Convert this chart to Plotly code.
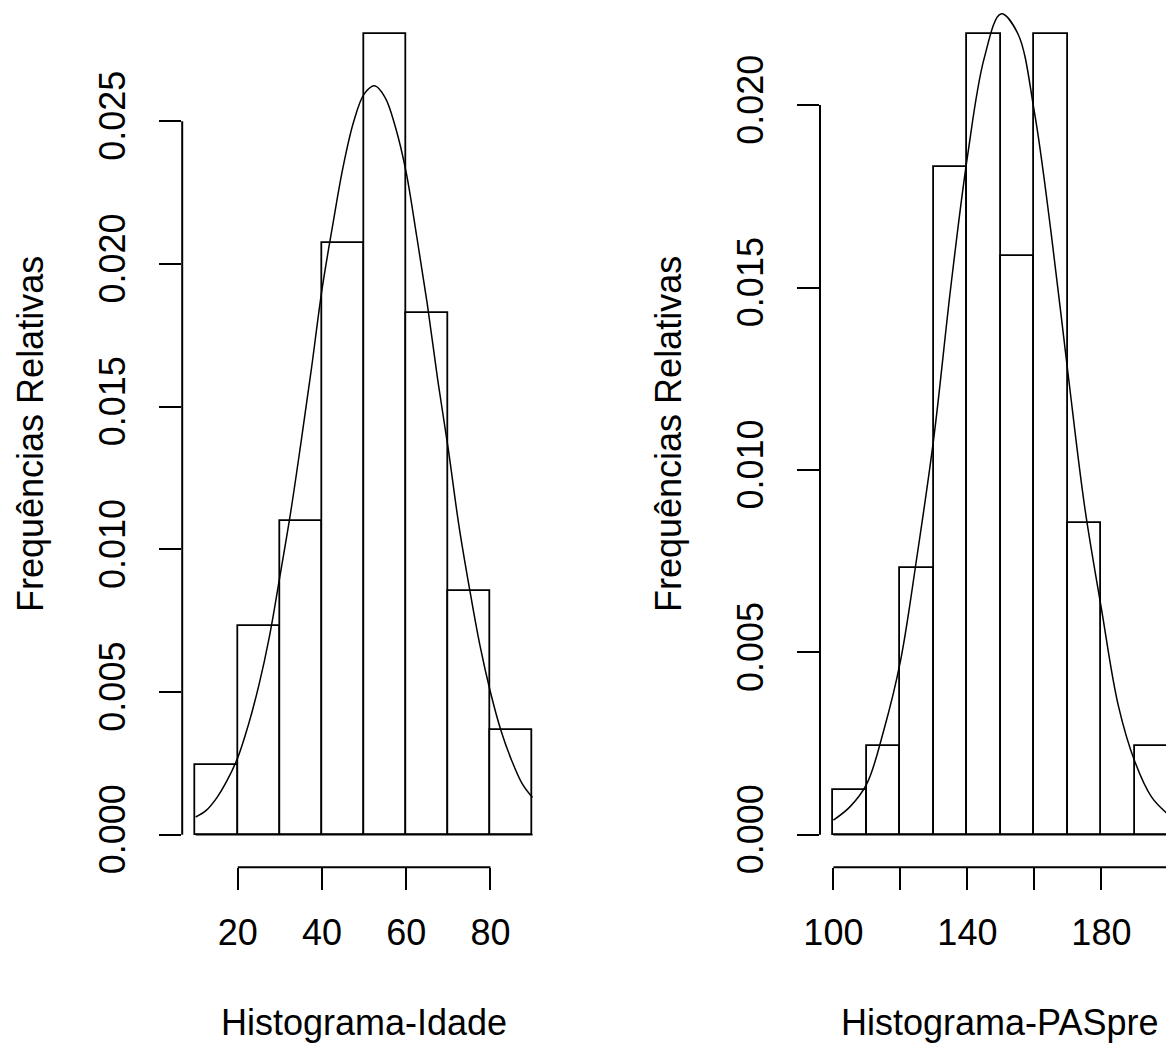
import plotly.graph_objects as go

# ---------------- data ----------------
idade_breaks = [10, 20, 30, 40, 50, 60, 70, 80, 90]
idade_counts = [2, 6, 9, 17, 23, 15, 7, 3]

pas_breaks = [100, 110, 120, 130, 140, 150, 160, 170, 180, 190, 200]
pas_counts = [1, 2, 6, 15, 18, 13, 18, 7, 0, 2]

# fitted normal curve
idade_curve_x = [10, 12.5, 15, 17.5, 20, 22.5, 25, 27.5, 30, 32.5, 35, 37.5, 40, 42.5, 45, 47.5,
                 50, 52.5, 55, 57.5, 60, 62.5, 65, 67.5, 70, 72.5, 75, 77.5, 80, 82.5, 85, 87.5, 90]
idade_curve_y = [0.00062, 0.00085, 0.00129, 0.00191, 0.00270, 0.00384, 0.00523, 0.00693, 0.00905,
                 0.01124, 0.01373, 0.01634, 0.01910, 0.02132, 0.02339, 0.02497, 0.02595, 0.02624,
                 0.02583, 0.02476, 0.02320, 0.02096, 0.01860, 0.01592, 0.01350, 0.01085, 0.00865,
                 0.00664, 0.00500, 0.00365, 0.00262, 0.00180, 0.00130]

pas_curve_x = [100, 105, 110, 115, 120, 125, 130, 135, 140, 145, 150, 155, 160, 165, 170, 175,
               180, 185, 190, 195, 200]
pas_curve_y = [0.00040, 0.00077, 0.00140, 0.00285, 0.00475, 0.00766, 0.01090, 0.01498, 0.01858,
               0.02128, 0.02250, 0.02197, 0.01981, 0.01649, 0.01267, 0.00899, 0.00620, 0.00356,
               0.00200, 0.00103, 0.00055]

idade_xticks = [20, 40, 60, 80]
idade_yticks = [0.0, 0.005, 0.010, 0.015, 0.020, 0.025]
idade_yticktext = ["0.000", "0.005", "0.010", "0.015", "0.020", "0.025"]

pas_xticks = [100, 120, 140, 160, 180, 200]
pas_xticktext = ["100", "", "140", "", "180", ""]
pas_yticks = [0.0, 0.005, 0.010, 0.015, 0.020]
pas_yticktext = ["0.000", "0.005", "0.010", "0.015", "0.020"]

xlabel_left = "Histograma-Idade"
xlabel_right = "Histograma-PASpre"
ylabel = "Frequências Relativas"

# ---------------- derived histogram densities ----------------
def hist_density(breaks, counts):
    n = sum(counts)
    mids, dens, widths = [], [], []
    for i, c in enumerate(counts):
        w = breaks[i + 1] - breaks[i]
        mids.append((breaks[i] + breaks[i + 1]) / 2)
        widths.append(w)
        dens.append(c / (n * w))
    return mids, dens, widths

idade_mid, idade_dens, idade_w = hist_density(idade_breaks, idade_counts)
pas_mid, pas_dens, pas_w = hist_density(pas_breaks, pas_counts)

FONT = "Liberation Sans, Arial, sans-serif"
OFF = 8                      # page body margin
W, H = 1174 - OFF, 1046 - OFF
LW = 1.8

fig = go.Figure()
fig.add_trace(go.Bar(x=idade_mid, y=idade_dens, width=idade_w, xaxis="x", yaxis="y",
                     marker=dict(color="white", line=dict(color="black", width=LW)),
                     showlegend=False))
fig.add_trace(go.Scatter(x=idade_curve_x, y=idade_curve_y, mode="lines", xaxis="x", yaxis="y",
                         line=dict(color="black", width=1.5, shape="spline"), showlegend=False))
fig.add_trace(go.Bar(x=pas_mid, y=pas_dens, width=pas_w, xaxis="x2", yaxis="y2",
                     marker=dict(color="white", line=dict(color="black", width=LW)),
                     showlegend=False))
fig.add_trace(go.Scatter(x=pas_curve_x, y=pas_curve_y, mode="lines", xaxis="x2", yaxis="y2",
                         line=dict(color="black", width=1.5, shape="spline"), showlegend=False))

# pixel geometry (screen px, converted to figure px)
def sx(px):
    return (px - OFF) / W

def sy(px):
    return 1 - (px - OFF) / H

left_x0_px, left_x1_px = 182.2, 546.0
right_x0_px = 820.0
xaxis_px = 867.3
zero_px = 834.7
left_ppu = 28540.0
right_ppu = 36480.0

xpos = sy(xaxis_px)
lx0 = sx(left_x0_px)
lx1 = sx(left_x1_px)
rx0 = sx(right_x0_px)

tickfont_x = dict(family=FONT, size=36, color="black")
tickfont_y = dict(family=FONT, size=36, color="black")

common_x = dict(ticks="outside", ticklen=22, tickwidth=2, tickcolor="black", showline=False,
                showgrid=False, zeroline=False, anchor="free", position=xpos,
                tickfont=tickfont_x, ticklabelstandoff=11, automargin=False)
common_y = dict(ticks="outside", ticklen=22, tickwidth=2, tickcolor="black", showline=False,
                showgrid=False, zeroline=False, tickangle=-90, tickfont=tickfont_y,
                ticklabelstandoff=20, domain=[0, 1], automargin=False)

zero_from_bottom = 1046 - zero_px
zero_from_top = zero_px - OFF

fig.update_layout(
    width=W, height=H, margin=dict(l=0, r=0, t=0, b=0, autoexpand=False),
    paper_bgcolor="white", plot_bgcolor="white", bargap=0, showlegend=False,
    xaxis=dict(domain=[lx0, lx1], range=[6.8, 93.2], tickvals=idade_xticks, **common_x),
    yaxis=dict(anchor="x", range=[-zero_from_bottom / left_ppu, zero_from_top / left_ppu],
               tickvals=idade_yticks, ticktext=idade_yticktext, **common_y),
    xaxis2=dict(domain=[rx0, 1], range=[96, 96 + (1174 - right_x0_px) / 3.35],
                tickvals=pas_xticks, ticktext=pas_xticktext, **common_x),
    yaxis2=dict(anchor="x2", range=[-zero_from_bottom / right_ppu, zero_from_top / right_ppu],
                tickvals=pas_yticks, ticktext=pas_yticktext, **common_y),
)

line = dict(color="black", width=2)
shapes = [
    dict(type="line", xref="x", yref="paper", x0=idade_xticks[0], x1=idade_xticks[-1],
         y0=xpos, y1=xpos, line=line),
    dict(type="line", xref="x2", yref="paper", x0=pas_xticks[0], x1=pas_xticks[-1],
         y0=xpos, y1=xpos, line=line),
    dict(type="line", xref="paper", yref="y", x0=lx0, x1=lx0,
         y0=idade_yticks[0], y1=idade_yticks[-1], line=line),
    dict(type="line", xref="paper", yref="y2", x0=rx0, x1=rx0,
         y0=pas_yticks[0], y1=pas_yticks[-1], line=line),
    dict(type="line", xref="x", yref="y", x0=idade_breaks[0], x1=idade_breaks[-1],
         y0=0, y1=0, line=dict(color="black", width=LW)),
    dict(type="line", xref="x2", yref="y2", x0=pas_breaks[0], x1=pas_breaks[-1],
         y0=0, y1=0, line=dict(color="black", width=LW)),
]
fig.update_layout(shapes=shapes)

title_font = dict(family=FONT, size=36, color="black")
ty = sy(1022)
ymid = sy(434)
fig.update_layout(annotations=[
    dict(text=xlabel_left, xref="paper", yref="paper", x=sx(364), y=ty, showarrow=False,
         xanchor="center", yanchor="middle", font=title_font),
    dict(text=xlabel_right, xref="paper", yref="paper", x=sx(999), y=ty, showarrow=False,
         xanchor="center", yanchor="middle", font=title_font),
    dict(text=ylabel, xref="paper", yref="paper", x=sx(31), y=ymid, showarrow=False,
         textangle=-90, xanchor="center", yanchor="middle", font=title_font),
    dict(text=ylabel, xref="paper", yref="paper", x=sx(669), y=ymid, showarrow=False,
         textangle=-90, xanchor="center", yanchor="middle", font=title_font),
])

fig.write_html("out.html")
